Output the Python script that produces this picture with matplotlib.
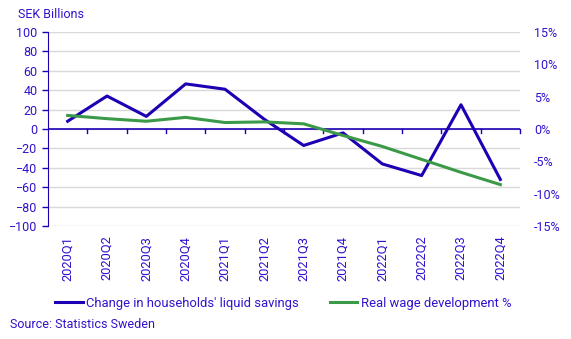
import matplotlib.pyplot as plt

quarters = ['2020Q1', '2020Q2', '2020Q3', '2020Q4',
            '2021Q1', '2021Q2', '2021Q3', '2021Q4',
            '2022Q1', '2022Q2', '2022Q3', '2022Q4']
liquid_savings = [8, 34, 13, 46.5, 41, 10, -17, -4, -36, -48, 25, -52]
real_wage = [2.1, 1.6, 1.2, 1.8, 1.0, 1.1, 0.8, -1.0, -2.7, -4.7, -6.7, -8.6]
left_ticks = list(range(-100, 101, 20))
right_ticks = list(range(-15, 16, 5))

text_color = '#3311cc'
blue = '#1e00b4'
green = '#3b9a48'

plt.rcParams['font.family'] = ['Roboto', 'DejaVu Sans']
plt.rcParams['font.size'] = 9

fig = plt.figure(figsize=(5.71, 3.39), dpi=100)
ax = fig.add_axes([48 / 571, 1 - 226 / 339, 472 / 571, 194 / 339])
ax2 = ax.twinx()

x = list(range(len(quarters)))
line1, = ax.plot(x, liquid_savings, color=blue, linewidth=2.2,
                 label="Change in households' liquid savings", zorder=3)
line2, = ax2.plot(x, real_wage, color=green, linewidth=2.2,
                  label='Real wage development %', zorder=2)

ax.set_ylim(-100, 100)
ax2.set_ylim(-15, 15)
ax.set_xlim(-0.5, len(quarters) - 0.5)
ax.set_yticks(left_ticks)
ax2.set_yticks(right_ticks)
ax2.set_yticklabels([f'{t}%' for t in right_ticks])

ax.grid(True, axis='y', color='#d9d9d9', linewidth=1)
ax.set_axisbelow(True)
ax.axhline(0, color=blue, linewidth=1.2, zorder=1)

# category ticks sit on the zero line, between quarters
for i in range(1, len(quarters) + 1):
    ax.plot([i - 0.5, i - 0.5], [0, -4], color=blue, linewidth=1, clip_on=False, zorder=1)

ax.set_xticks(x)
ax.set_xticklabels(quarters, rotation=90, color=text_color, fontsize=9.3)
ax.tick_params(axis='x', length=0, pad=7)
ax.tick_params(axis='y', colors=blue, labelcolor=text_color, length=4, width=1)
ax2.tick_params(axis='y', length=0, labelcolor=text_color, pad=10)

for spine in ['top', 'right', 'bottom']:
    ax.spines[spine].set_visible(False)
ax.spines['left'].set_color(blue)
for spine in ax2.spines.values():
    spine.set_visible(False)

fig.text(18 / 571, 1 - 15 / 339, 'SEK Billions', color=text_color, va='center', ha='left')
fig.legend(handles=[line1, line2], loc='center', bbox_to_anchor=(0.496, 1 - 303 / 339),
           ncol=2, frameon=False, labelcolor=text_color, fontsize=9.4,
           handlelength=2.1, handletextpad=0.25, columnspacing=2.4)
fig.text(10 / 571, 1 - 325 / 339, 'Source: Statistics Sweden', color=text_color,
         va='center', ha='left')

fig.savefig('out.png', dpi=100)
